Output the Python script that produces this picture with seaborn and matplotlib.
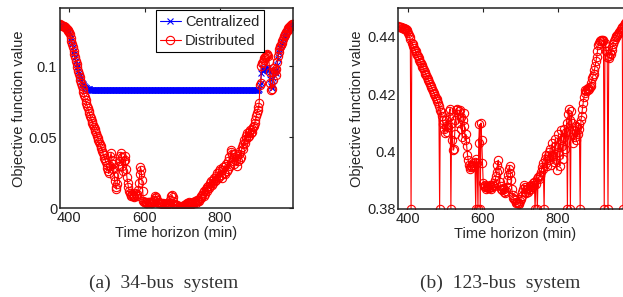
import numpy as np
import pandas as pd
import seaborn as sns
import matplotlib.pyplot as plt

# time axis (min), one sample every 2 minutes, 375 ... 995
minutes = list(range(375, 997, 2))

# 34-bus system, centralized solution
central_34 = [
    0.1295, 0.1292, 0.1289, 0.1286, 0.1283, 0.1280, 0.1277, 0.1273, 0.1269, 0.1265,
    0.1258, 0.1250, 0.1240, 0.1225, 0.1200, 0.1180, 0.1155, 0.1132, 0.1108, 0.1085,
    0.1062, 0.1039, 0.1016, 0.0993, 0.0970, 0.0950, 0.0930, 0.0912, 0.0897, 0.0885,
    0.0875, 0.0867, 0.0860, 0.0855, 0.0850, 0.0846, 0.0843, 0.0841, 0.0839, 0.0837,
    0.0836, 0.0835, 0.0834, 0.0833, 0.0833, 0.0832, 0.0832, 0.0832, 0.0831, 0.0831,
    0.0831, 0.0831, 0.0831, 0.0831, 0.0831, 0.0831, 0.0831, 0.0831, 0.0831, 0.0831,
    0.0831, 0.0831, 0.0831, 0.0831, 0.0831, 0.0831, 0.0831, 0.0831, 0.0831, 0.0831,
    0.0831, 0.0831, 0.0831, 0.0831, 0.0831, 0.0831, 0.0831, 0.0831, 0.0831, 0.0831,
    0.0831, 0.0831, 0.0831, 0.0831, 0.0831, 0.0831, 0.0831, 0.0831, 0.0831, 0.0831,
    0.0831, 0.0831, 0.0831, 0.0831, 0.0831, 0.0831, 0.0831, 0.0831, 0.0831, 0.0831,
    0.0831, 0.0831, 0.0831, 0.0831, 0.0831, 0.0831, 0.0831, 0.0831, 0.0831, 0.0831,
    0.0831, 0.0831, 0.0831, 0.0831, 0.0831, 0.0831, 0.0831, 0.0831, 0.0831, 0.0831,
    0.0831, 0.0831, 0.0831, 0.0831, 0.0831, 0.0831, 0.0831, 0.0831, 0.0831, 0.0831,
    0.0831, 0.0831, 0.0831, 0.0831, 0.0831, 0.0831, 0.0831, 0.0831, 0.0831, 0.0831,
    0.0831, 0.0831, 0.0831, 0.0831, 0.0831, 0.0831, 0.0831, 0.0831, 0.0831, 0.0831,
    0.0831, 0.0831, 0.0831, 0.0831, 0.0831, 0.0831, 0.0831, 0.0831, 0.0831, 0.0831,
    0.0831, 0.0831, 0.0831, 0.0831, 0.0831, 0.0831, 0.0831, 0.0831, 0.0831, 0.0831,
    0.0831, 0.0831, 0.0831, 0.0831, 0.0831, 0.0831, 0.0831, 0.0831, 0.0831, 0.0831,
    0.0831, 0.0831, 0.0831, 0.0831, 0.0831, 0.0831, 0.0831, 0.0831, 0.0831, 0.0831,
    0.0831, 0.0831, 0.0831, 0.0831, 0.0831, 0.0831, 0.0831, 0.0831, 0.0831, 0.0831,
    0.0831, 0.0831, 0.0831, 0.0831, 0.0831, 0.0831, 0.0831, 0.0831, 0.0831, 0.0831,
    0.0831, 0.0831, 0.0831, 0.0831, 0.0831, 0.0831, 0.0831, 0.0831, 0.0831, 0.0831,
    0.0831, 0.0831, 0.0831, 0.0831, 0.0831, 0.0831, 0.0831, 0.0831, 0.0831, 0.0831,
    0.0831, 0.0831, 0.0831, 0.0831, 0.0831, 0.0831, 0.0831, 0.0831, 0.0831, 0.0831,
    0.0831, 0.0831, 0.0831, 0.0831, 0.0831, 0.0831, 0.0831, 0.0831, 0.0831, 0.0831,
    0.0831, 0.0831, 0.0831, 0.0831, 0.0831, 0.0831, 0.0831, 0.0831, 0.0831, 0.0831,
    0.0831, 0.0832, 0.0832, 0.0833, 0.0835, 0.0840, 0.0870, 0.0880, 0.0950, 0.0990,
    0.0970, 0.0975, 0.0985, 0.0990, 0.0980, 0.0975, 0.0985, 0.0990, 0.0975, 0.0960,
    0.0910, 0.0860, 0.0850, 0.0870, 0.0920, 0.0970, 0.0960, 0.0950, 0.0975, 0.1010,
    0.1050, 0.1090, 0.1110, 0.1130, 0.1145, 0.1160, 0.1175, 0.1190, 0.1205, 0.1215,
    0.1225, 0.1235, 0.1245, 0.1255, 0.1263, 0.1270, 0.1278, 0.1284, 0.1290, 0.1294,
    0.1297,
]

# 34-bus system, distributed solution
distrib_34 = [
    0.1295, 0.1292, 0.1289, 0.1286, 0.1283, 0.1280, 0.1277, 0.1273, 0.1269, 0.1265,
    0.1258, 0.1250, 0.1240, 0.1225, 0.1200, 0.1180, 0.1155, 0.1132, 0.1108, 0.1085,
    0.1062, 0.1039, 0.1016, 0.0993, 0.0970, 0.0948, 0.0926, 0.0904, 0.0882, 0.0860,
    0.0840, 0.0820, 0.0800, 0.0780, 0.0761, 0.0742, 0.0723, 0.0705, 0.0687, 0.0669,
    0.0651, 0.0634, 0.0618, 0.0602, 0.0587, 0.0572, 0.0557, 0.0542, 0.0527, 0.0512,
    0.0497, 0.0482, 0.0467, 0.0452, 0.0437, 0.0421, 0.0405, 0.0389, 0.0373, 0.0357,
    0.0340, 0.0323, 0.0305, 0.0285, 0.0262, 0.0245, 0.0300, 0.0365, 0.0390, 0.0340,
    0.0280, 0.0310, 0.0230, 0.0190, 0.0150, 0.0135, 0.0170, 0.0240, 0.0300, 0.0330,
    0.0370, 0.0390, 0.0360, 0.0300, 0.0260, 0.0330, 0.0370, 0.0340, 0.0280, 0.0220,
    0.0180, 0.0150, 0.0120, 0.0105, 0.0095, 0.0090, 0.0100, 0.0085, 0.0080, 0.0090,
    0.0110, 0.0095, 0.0085, 0.0100, 0.0130, 0.0180, 0.0240, 0.0290, 0.0270, 0.0200,
    0.0120, 0.0050, 0.0045, 0.0042, 0.0040, 0.0043, 0.0038, 0.0041, 0.0044, 0.0039,
    0.0042, 0.0037, 0.0040, 0.0045, 0.0050, 0.0060, 0.0075, 0.0090, 0.0080, 0.0055,
    0.0045, 0.0040, 0.0035, 0.0038, 0.0034, 0.0036, 0.0032, 0.0035, 0.0030, 0.0033,
    0.0028, 0.0030, 0.0025, 0.0040, 0.0030, 0.0022, 0.0035, 0.0060, 0.0085, 0.0095,
    0.0080, 0.0050, 0.0030, 0.0020, 0.0025, 0.0015, 0.0020, 0.0012, 0.0015, 0.0008,
    0.0005, 0.0010, 0.0008, 0.0015, 0.0012, 0.0020, 0.0018, 0.0025, 0.0030, 0.0040,
    0.0035, 0.0045, 0.0030, 0.0040, 0.0035, 0.0028, 0.0038, 0.0045, 0.0035, 0.0042,
    0.0050, 0.0040, 0.0055, 0.0048, 0.0060, 0.0052, 0.0070, 0.0085, 0.0075, 0.0095,
    0.0110, 0.0090, 0.0120, 0.0100, 0.0135, 0.0150, 0.0120, 0.0160, 0.0140, 0.0175,
    0.0155, 0.0190, 0.0165, 0.0200, 0.0175, 0.0215, 0.0190, 0.0230, 0.0200, 0.0245,
    0.0210, 0.0260, 0.0220, 0.0280, 0.0235, 0.0270, 0.0215, 0.0290, 0.0250, 0.0300,
    0.0240, 0.0310, 0.0265, 0.0330, 0.0280, 0.0360, 0.0300, 0.0395, 0.0410, 0.0380,
    0.0330, 0.0360, 0.0310, 0.0380, 0.0340, 0.0300, 0.0370, 0.0330, 0.0380, 0.0350,
    0.0400, 0.0360, 0.0430, 0.0450, 0.0420, 0.0480, 0.0460, 0.0510, 0.0490, 0.0530,
    0.0500, 0.0540, 0.0510, 0.0550, 0.0530, 0.0560, 0.0540, 0.0570, 0.0580, 0.0600,
    0.0620, 0.0650, 0.0670, 0.0690, 0.0710, 0.0740, 0.0870, 0.0880, 0.1000, 0.1020,
    0.1030, 0.1045, 0.1055, 0.1065, 0.1075, 0.1080, 0.1085, 0.1075, 0.1040, 0.0960,
    0.0880, 0.0830, 0.0840, 0.0900, 0.0960, 0.0990, 0.0970, 0.0940, 0.0980, 0.1030,
    0.1070, 0.1100, 0.1120, 0.1140, 0.1150, 0.1165, 0.1180, 0.1195, 0.1210, 0.1220,
    0.1230, 0.1240, 0.1250, 0.1258, 0.1266, 0.1273, 0.1280, 0.1286, 0.1291, 0.1295,
    0.1298,
]

# 123-bus system, distributed solution (0.38 = drops to the bottom of the axis)
distrib_123 = [
    0.4437, 0.4436, 0.4435, 0.4434, 0.4433, 0.4432, 0.4431, 0.4430, 0.4429, 0.4428,
    0.4427, 0.4425, 0.4420, 0.4412, 0.4405, 0.4398, 0.4392, 0.3800, 0.4380, 0.4374,
    0.4368, 0.4362, 0.4356, 0.4350, 0.4344, 0.4338, 0.4332, 0.4326, 0.4320, 0.4314,
    0.4308, 0.4302, 0.4296, 0.4290, 0.4284, 0.4278, 0.4272, 0.4266, 0.4260, 0.4254,
    0.4248, 0.4242, 0.4236, 0.4230, 0.4224, 0.4218, 0.4212, 0.4206, 0.4200, 0.4194,
    0.4188, 0.4182, 0.4176, 0.4168, 0.4160, 0.3800, 0.4146, 0.4138, 0.4125, 0.4110,
    0.4095, 0.4080, 0.4065, 0.4090, 0.4110, 0.4070, 0.4085, 0.4120, 0.4140, 0.4150,
    0.3800, 0.4100, 0.4040, 0.4005, 0.4010, 0.4060, 0.4110, 0.4145, 0.4150, 0.4130,
    0.4100, 0.4140, 0.4145, 0.4120, 0.4080, 0.4050, 0.4110, 0.4135, 0.4090, 0.4040,
    0.4060, 0.4020, 0.3990, 0.3970, 0.3955, 0.3945, 0.3940, 0.3950, 0.3945, 0.3955,
    0.3960, 0.3950, 0.3965, 0.3800, 0.3975, 0.3960, 0.3800, 0.4030, 0.4095, 0.3800,
    0.4100, 0.4040, 0.3960, 0.3890, 0.3880, 0.3875, 0.3885, 0.3870, 0.3878, 0.3872,
    0.3880, 0.3874, 0.3882, 0.3876, 0.3870, 0.3878, 0.3885, 0.3880, 0.3890, 0.3900,
    0.3915, 0.3930, 0.3955, 0.3970, 0.3935, 0.3895, 0.3880, 0.3870, 0.3865, 0.3872,
    0.3860, 0.3868, 0.3855, 0.3862, 0.3875, 0.3900, 0.3920, 0.3940, 0.3950, 0.3925,
    0.3900, 0.3870, 0.3850, 0.3840, 0.3835, 0.3830, 0.3826, 0.3822, 0.3825, 0.3820,
    0.3818, 0.3822, 0.3828, 0.3835, 0.3845, 0.3858, 0.3870, 0.3885, 0.3878, 0.3860,
    0.3855, 0.3868, 0.3860, 0.3872, 0.3865, 0.3880, 0.3870, 0.3885, 0.3878, 0.3890,
    0.3882, 0.3895, 0.3800, 0.3888, 0.3905, 0.3800, 0.3910, 0.3905, 0.3920, 0.3915,
    0.3930, 0.3945, 0.3960, 0.3940, 0.3800, 0.3975, 0.3990, 0.3960, 0.3950, 0.3985,
    0.4000, 0.3970, 0.4010, 0.3955, 0.3990, 0.4030, 0.3985, 0.3965, 0.4020, 0.4045,
    0.3970, 0.3935, 0.4000, 0.4060, 0.3990, 0.3950, 0.4040, 0.4075, 0.4020, 0.3975,
    0.4050, 0.4080, 0.4010, 0.4070, 0.4100, 0.3800, 0.4130, 0.4150, 0.4110, 0.3800,
    0.4140, 0.4100, 0.4060, 0.4030, 0.4075, 0.4050, 0.4090, 0.4040, 0.4085, 0.4060,
    0.4095, 0.4080, 0.3800, 0.4110, 0.4125, 0.4150, 0.4170, 0.4190, 0.4205, 0.4215,
    0.4210, 0.4220, 0.4215, 0.4222, 0.4218, 0.4225, 0.4230, 0.4240, 0.4255, 0.4265,
    0.4270, 0.4285, 0.4300, 0.4315, 0.4330, 0.4350, 0.4372, 0.4380, 0.4384, 0.4386,
    0.4388, 0.4390, 0.4385, 0.4388, 0.3800, 0.4380, 0.4370, 0.4350, 0.4330, 0.3800,
    0.4325, 0.4335, 0.4345, 0.4340, 0.4355, 0.4365, 0.4375, 0.4385, 0.4392, 0.4398,
    0.4402, 0.4406, 0.4410, 0.4414, 0.4418, 0.4422, 0.4426, 0.4430, 0.4434, 0.3800,
    0.4440, 0.4444, 0.4448, 0.4452, 0.4456, 0.4460, 0.4464, 0.4468, 0.4472, 0.4476,
    0.4480,
]

df34 = pd.DataFrame({'t': minutes, 'central': central_34, 'distrib': distrib_34})
df123 = pd.DataFrame({'t': minutes, 'distrib': distrib_123})

sns.set_style("white")
plt.rcParams['font.family'] = ['Liberation Sans', 'DejaVu Sans']

fig = plt.figure(figsize=(6.23, 2.97), dpi=100)
ax1 = fig.add_axes([0.0963, 0.2987, 0.374, 0.6734])
ax2 = fig.add_axes([0.6393, 0.2963, 0.374, 0.677])

# left: 34-bus
sns.lineplot(data=df34, x='t', y='central', ax=ax1, color='blue', linewidth=0.8,
             marker='x', markersize=5, mec='blue', mew=0.8, label='Centralized')
sns.lineplot(data=df34, x='t', y='distrib', ax=ax1, color='red', linewidth=0.8,
             marker='o', markersize=6, mfc='none', mec='red', mew=0.8, label='Distributed')
ax1.set_xlim(375, 995)
ax1.set_ylim(0, 0.1408)
ax1.set_xticks([400, 600, 800])
ax1.set_yticks([0, 0.05, 0.1])
ax1.set_yticklabels(['0', '0.05', '0.1'])
leg = ax1.legend(loc='upper left', bbox_to_anchor=(0.411, 0.99), fontsize=10.5,
                 frameon=True, fancybox=False, edgecolor='black', framealpha=1,
                 borderpad=0.3, labelspacing=0.35, handlelength=1.4, handletextpad=0.3,
                 borderaxespad=0)
leg.get_frame().set_linewidth(0.8)

# right: 123-bus
sns.lineplot(data=df123, x='t', y='distrib', ax=ax2, color='red', linewidth=0.8,
             marker='o', markersize=6, mfc='none', mec='red', mew=0.8)
ax2.set_xlim(375, 995)
ax2.set_ylim(0.38, 0.4501)
ax2.set_xticks([400, 600, 800])
ax2.set_yticks([0.38, 0.4, 0.42, 0.44])
ax2.set_yticklabels(['0.38', '0.4', '0.42', '0.44'])

for ax in (ax1, ax2):
    ax.set_xlabel('Time horizon (min)', fontsize=10.5, labelpad=1)
    ax.set_ylabel('Objective function value', fontsize=10.5, labelpad=2)
    ax.tick_params(direction='in', length=3, width=0.8, top=True, right=True,
                   labelsize=10.5, pad=2, colors='#222222', labelcolor='#222222')
    for s in ax.spines.values():
        s.set_visible(True)
        s.set_color('#222222')
        s.set_linewidth(1.1)

fig.text(0.263, 0.047, '(a)  34-bus  system', ha='center', va='center', fontsize=14,
         family=['Liberation Serif', 'DejaVu Serif'], color='#333333')
fig.text(0.803, 0.047, '(b)  123-bus  system', ha='center', va='center', fontsize=14,
         family=['Liberation Serif', 'DejaVu Serif'], color='#333333')

fig.savefig('out.png', dpi=100)
